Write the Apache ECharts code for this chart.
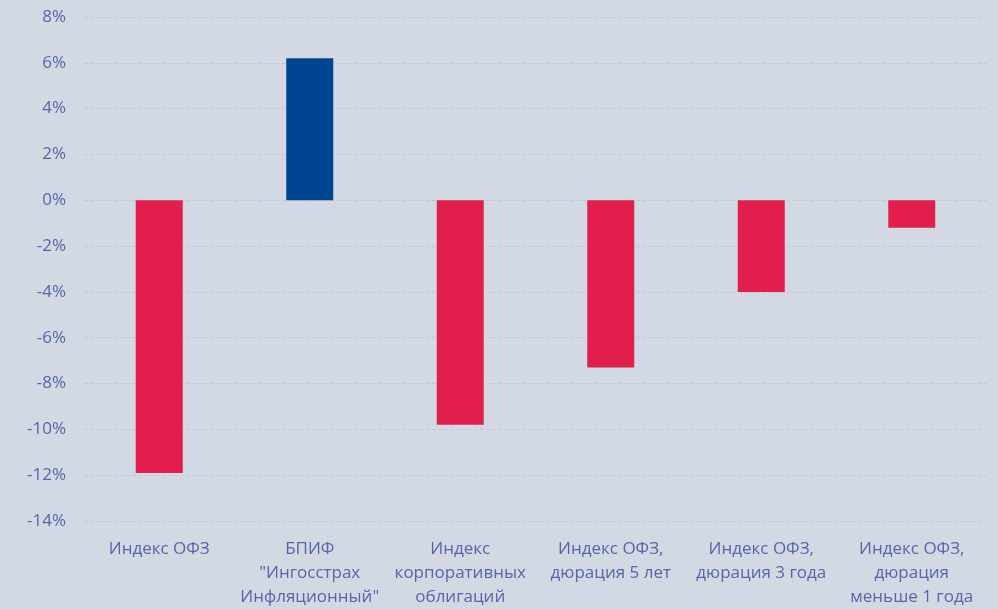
<!DOCTYPE html>
<html><head><meta charset="utf-8">
<script src="https://cdn.jsdelivr.net/npm/echarts@6/dist/echarts.min.js"></script>
<style>html,body{margin:0;padding:0;background:#d2d9e3;}#c{width:998px;height:609px;}</style>
</head><body><div id="c"></div>
<script>
const categories = ["Индекс ОФЗ", "БПИФ\n\"Ингосстрах\nИнфляционный\"", "Индекс\nкорпоративных\nоблигаций", "Индекс ОФЗ,\nдюрация 5 лет", "Индекс ОФЗ,\nдюрация 3 года", "Индекс ОФЗ,\nдюрация\nменьше 1 года"];
const values = [-11.9, 6.2, -9.8, -7.3, -4.0, -1.2];
const positiveColor = "#00458f";
const negativeColor = "#e21f4c";
const chart = echarts.init(document.getElementById('c'));
chart.setOption({
  backgroundColor: '#d2d9e3',
  animation: false,
  grid: {left: 84, right: 11, top: 17, bottom: 84, containLabel: false},
  xAxis: {
    type: 'category', data: categories,
    axisLine: {show: false}, axisTick: {show: false},
    axisLabel: {color: '#5865aa', fontSize: 17, fontFamily: 'Open Sans', lineHeight: 24, margin: 16, interval: 0}
  },
  yAxis: {
    type: 'value', min: -14, max: 8, interval: 2,
    axisLabel: {formatter: '{value}%', color: '#5865aa', fontSize: 17, fontFamily: 'Open Sans', margin: 18},
    splitLine: {lineStyle: {color: '#c3cad9', type: 'dashed', width: 1}},
    axisLine: {show: false}, axisTick: {show: false}
  },
  series: [{
    type: 'bar', barWidth: 47,
    data: values.map(v => ({value: v, itemStyle: {color: v >= 0 ? positiveColor : negativeColor}}))
  }]
});
</script></body></html>
